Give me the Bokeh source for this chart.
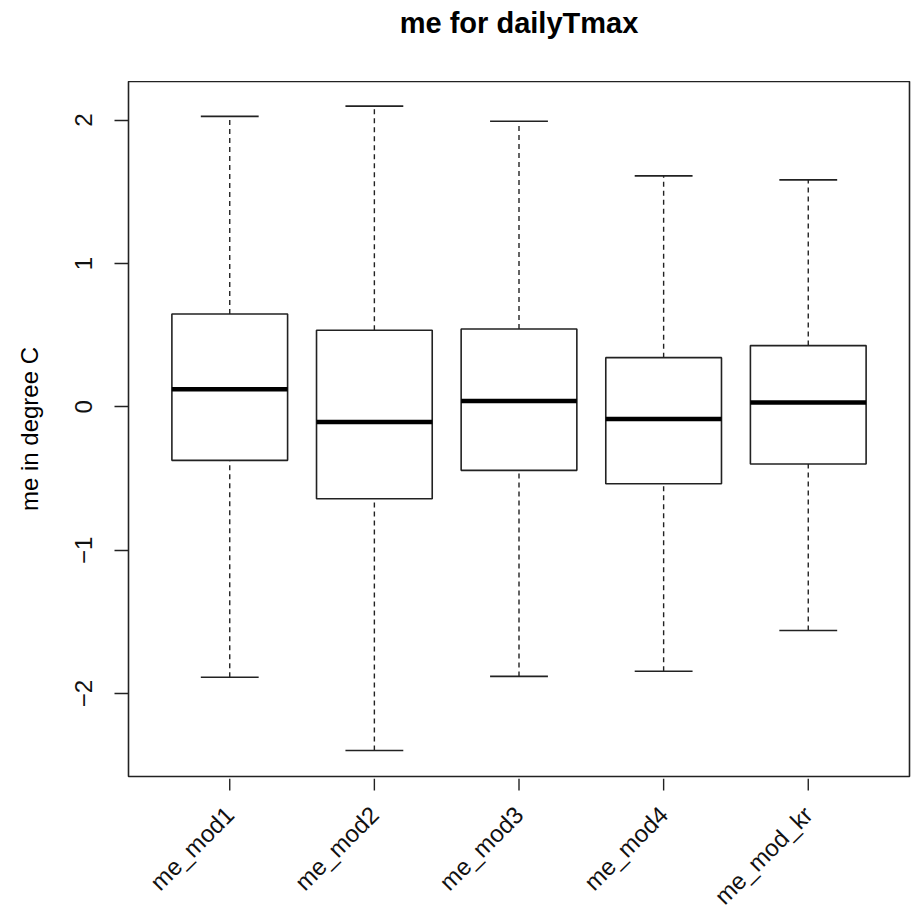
import math
from bokeh.plotting import figure
from bokeh.layouts import column
from bokeh.models import FixedTicker, Range1d, ColumnDataSource
from bokeh.core.properties import value
from bokeh.embed import file_html
from bokeh.resources import INLINE

# Box-plot statistics per model (degrees C)
categories = ["me_mod1", "me_mod2", "me_mod3", "me_mod4", "me_mod_kr"]
whisker_low = [-1.886, -2.397, -1.880, -1.844, -1.560]
q1 = [-0.373, -0.641, -0.443, -0.536, -0.399]
median = [0.122, -0.106, 0.040, -0.085, 0.031]
q3 = [0.648, 0.534, 0.543, 0.343, 0.427]
whisker_high = [2.026, 2.097, 1.992, 1.611, 1.583]
y_ticks = [-2, -1, 0, 1, 2]
title_text = "me for dailyTmax"

FONT = "Liberation Sans"
INK = "#222222"
X_MIN, X_MAX = 0.3, 5.7
Y_MIN, Y_MAX = -2.578, 2.269

W = 914
LEFT, RIGHT = 128, 5
TOP_H, MAIN_H = 81, 697
BOTTOM_H = 911 - TOP_H - MAIN_H
TICK_LEN = 12

pos = list(range(1, len(categories) + 1))
box_w = 0.8
cap_w = 0.4

src = ColumnDataSource(dict(
    x=pos, lo=whisker_low, q1=q1, med=median, q3=q3, hi=whisker_high,
    cap_l=[p - cap_w / 2 for p in pos], cap_r=[p + cap_w / 2 for p in pos],
    box_l=[p - box_w / 2 for p in pos], box_r=[p + box_w / 2 for p in pos],
))

x_range = Range1d(X_MIN, X_MAX)


def strip(fig):
    fig.background_fill_color = "white"
    fig.border_fill_color = "white"
    fig.outline_line_color = None
    fig.grid.visible = False


# ---- title strip -------------------------------------------------------
top = figure(width=W, height=TOP_H, output_backend="svg",
             toolbar_location=None, x_range=x_range,
             y_range=Range1d(0, TOP_H), x_axis_location=None,
             y_axis_location=None, min_border_left=LEFT,
             min_border_right=RIGHT, min_border_top=0, min_border_bottom=0)
strip(top)
top.text(x=[(X_MIN + X_MAX) / 2], y=[TOP_H - 22], text=[title_text],
         text_align="center", text_baseline="middle",
         text_font=value(FONT), text_font_size="29px",
         text_font_style="bold", text_color="black")

# ---- main box plot -----------------------------------------------------
p = figure(width=W, height=MAIN_H, output_backend="svg",
           toolbar_location=None, x_range=x_range,
           y_range=Range1d(Y_MIN, Y_MAX), x_axis_location=None,
           min_border_left=LEFT, min_border_right=RIGHT, min_border_top=0,
           min_border_bottom=2)
strip(p)
p.outline_line_color = INK
p.outline_line_width = 1.6

# whiskers (dashed) from box to caps
p.segment(x0="x", y0="q3", x1="x", y1="hi", source=src, line_color=INK,
          line_width=1.4, line_dash="5 4")
p.segment(x0="x", y0="lo", x1="x", y1="q1", source=src, line_color=INK,
          line_width=1.4, line_dash="5 4")
# caps
p.segment(x0="cap_l", y0="hi", x1="cap_r", y1="hi", source=src,
          line_color=INK, line_width=1.6)
p.segment(x0="cap_l", y0="lo", x1="cap_r", y1="lo", source=src,
          line_color=INK, line_width=1.6)
# boxes
p.quad(left="box_l", right="box_r", bottom="q1", top="q3", source=src,
       fill_color="white", line_color=INK, line_width=1.6)
# medians
p.segment(x0="box_l", y0="med", x1="box_r", y1="med", source=src,
          line_color="black", line_width=4.5)

# y axis
p.yaxis.ticker = FixedTicker(ticks=y_ticks)
p.yaxis.major_label_orientation = "vertical"
p.yaxis.axis_label = "me in degree C"
p.yaxis.axis_label_text_font = FONT
p.yaxis.axis_label_text_font_size = "24px"
p.yaxis.axis_label_text_font_style = "normal"
p.yaxis.axis_label_text_color = "black"
p.yaxis.axis_label_standoff = 30
p.yaxis.major_label_standoff = 22
p.yaxis.major_label_text_font = FONT
p.yaxis.major_label_text_font_size = "24px"
p.yaxis.major_label_text_color = "#111111"
p.yaxis.axis_line_color = None
p.yaxis.major_tick_line_color = INK
p.yaxis.major_tick_line_width = 1.4
p.yaxis.major_tick_out = 14
p.yaxis.major_tick_in = 0
p.yaxis.minor_tick_line_color = None

# ---- category ticks and slanted names below the frame ------------------
bottom = figure(width=W, height=BOTTOM_H, output_backend="svg",
                toolbar_location=None, x_range=x_range,
                y_range=Range1d(0, BOTTOM_H), x_axis_location=None,
                y_axis_location=None, min_border_left=LEFT,
                min_border_right=RIGHT, min_border_top=0, min_border_bottom=0)
strip(bottom)
bottom.segment(x0=pos, y0=[BOTTOM_H] * len(pos), x1=pos,
               y1=[BOTTOM_H - TICK_LEN] * len(pos),
               line_color=INK, line_width=1.4)
bottom.text(x=pos, y=[BOTTOM_H - 32] * len(pos), text=categories,
            angle=math.pi / 4, text_align="right", text_baseline="middle",
            text_font=value(FONT), text_font_size="24px",
            text_color="#111111")

layout = column(top, p, bottom, spacing=0)
open("out.html", "w").write(file_html(layout, INLINE))
